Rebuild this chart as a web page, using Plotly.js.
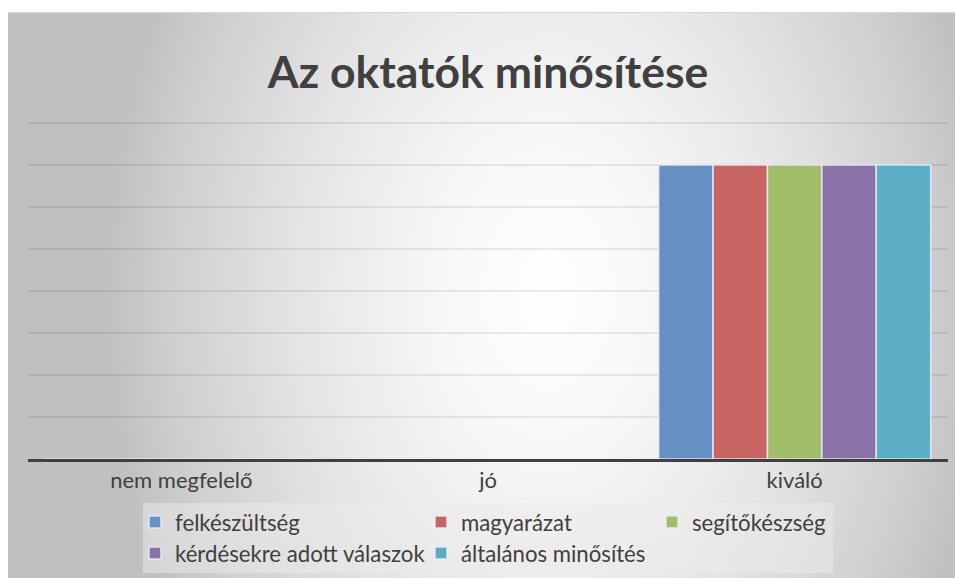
<!DOCTYPE html>
<html>
<head>
<meta charset="utf-8">
<script src="https://cdn.plot.ly/plotly-3.0.1.min.js"></script>
<style>
  html, body { margin: 0; padding: 0; background: #ffffff; width: 955px; height: 578px; overflow: hidden; }
  #bg {
    position: absolute; left: 8px; top: 12px; width: 947px; height: 566px;
    border-top: 1px solid #d8d8d8;
    background: radial-gradient(ellipse 440px 640px at 540px 280px, #ffffff 0%, #f7f7f7 25%, #e6e6e6 55%, #cfcfcf 86%, #c0c0c0 100%);
    background-color: #c0c0c0;
  }
  #chart { position: absolute; left: 0; top: 0; width: 955px; height: 578px; }
</style>
</head>
<body>
<div id="bg"></div>
<div id="chart"></div>
<script>
// Data
const categories = ["nem megfelelő", "jó", "kiváló"];
const seriesNames = ["felkészültség", "magyarázat", "segítőkészség", "kérdésekre adott válaszok", "általános minősítés"];
const felkeszultseg = [0, 0, 7];
const magyarazat = [0, 0, 7];
const segitokeszseg = [0, 0, 7];
const kerdesekre = [0, 0, 7];
const altalanos = [0, 0, 7];
const seriesValues = [felkeszultseg, magyarazat, segitokeszseg, kerdesekre, altalanos];
const titleText = "Az oktatók minősítése";

const colors = ["#6590c4", "#c66562", "#a1bd67", "#8a72a8", "#5badc5"];
const legendNames = ["legend", "legend2", "legend3", "legend4", "legend5"];
// legend item positions (container px): [x of legend left, y center]
const legendPos = [[135, 522], [421, 522], [652, 522], [135, 553], [421, 553]];

const traces = seriesNames.map((name, i) => ({
  type: "bar",
  name: name,
  x: categories,
  y: seriesValues[i],
  marker: { color: colors[i], line: { color: "rgba(235,240,250,0.85)", width: 1.5 } },
  legend: legendNames[i],
  hoverinfo: "x+y+name"
}));

const W = 955, H = 578;
const layout = {
  width: W, height: H,
  paper_bgcolor: "rgba(0,0,0,0)",
  plot_bgcolor: "rgba(0,0,0,0)",
  margin: { l: 28, r: 7, t: 119, b: 119, autoexpand: false },
  barmode: "group",
  bargap: 0.113,
  bargroupgap: 0,
  font: { family: "Lato, 'DejaVu Sans', sans-serif", color: "#404040", size: 22 },
  title: {
    text: "<b>" + titleText + "</b>",
    font: { family: "Lato, sans-serif", size: 44.5, color: "#404040" },
    x: 0.511, xref: "container", xanchor: "center",
    y: 1 - 72 / H, yref: "container", yanchor: "middle"
  },
  xaxis: {
    type: "category",
    showline: true, linecolor: "#404040", linewidth: 3,
    showgrid: false, zeroline: false, ticks: "",
    tickfont: { family: "Lato, sans-serif", size: 22, color: "#404040" }
  },
  yaxis: {
    range: [0, 8 + 4 / 42], dtick: 1, tick0: 0,
    showticklabels: false, ticks: "",
    showgrid: true, gridcolor: "rgba(0,0,0,0.08)", gridwidth: 1.2,
    zeroline: false, showline: false, fixedrange: true
  },
  shapes: [{
    type: "rect", xref: "paper", yref: "paper",
    x0: (143 - 28) / 920, x1: (833 - 28) / 920,
    y0: (459 - 573) / 340, y1: (459 - 503) / 340,
    fillcolor: "rgba(236,236,236,0.5)", line: { width: 0 }, layer: "below"
  }],
  showlegend: true
};

legendNames.forEach((ln, i) => {
  layout[ln] = {
    x: legendPos[i][0] / W, xref: "container", xanchor: "left",
    y: 1 - legendPos[i][1] / H, yref: "container", yanchor: "middle",
    bgcolor: "rgba(0,0,0,0)", borderwidth: 0,
    font: { family: "Lato, sans-serif", size: 22.2, color: "#404040" },
    orientation: "v"
  };
});

Plotly.newPlot("chart", traces, layout, { displayModeBar: false, staticPlot: true });
</script>
</body>
</html>
